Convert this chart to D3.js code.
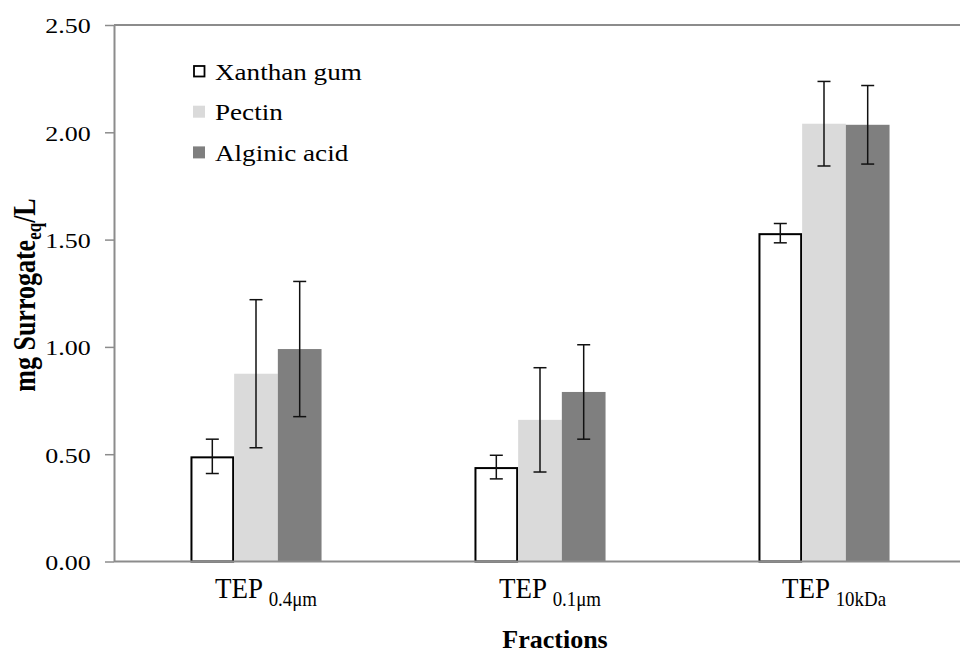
<!DOCTYPE html>
<html><head><meta charset="utf-8">
<script src="https://cdn.jsdelivr.net/npm/d3@7"></script>
<style>body{margin:0;background:#fff}svg{display:block}text{font-family:"Liberation Serif","Times New Roman",serif;fill:#000}</style>
</head><body><svg id="c" width="960" height="657"></svg>
<script>
const categories = ["TEP|0.4μm", "TEP|0.1μm", "TEP|10kDa"];
const seriesNames = ["Xanthan gum", "Pectin", "Alginic acid"];
const xanthanMeans = [0.49, 0.44, 1.53];
const pectinMeans = [0.875, 0.66, 2.04];
const alginicMeans = [0.99, 0.79, 2.035];
const xanthanErr = [0.08, 0.055, 0.045];
const pectinErr = [0.345, 0.243, 0.197];
const alginicErr = [0.315, 0.22, 0.183];
const yTicks = [0, 0.5, 1.0, 1.5, 2.0, 2.5];

const FONT = "'Liberation Serif', 'Times New Roman', serif";
const fills = ["#ffffff", "#dadada", "#7f7f7f"];
const series = [
  {name: seriesNames[0], means: xanthanMeans, errs: xanthanErr},
  {name: seriesNames[1], means: pectinMeans, errs: pectinErr},
  {name: seriesNames[2], means: alginicMeans, errs: alginicErr}
];

const svg = d3.select("#c");
const L = 114, R = 966, T = 25, B = 561.5;
const y = d3.scaleLinear().domain([0, 2.5]).range([B, T]);
const x0 = d3.scaleBand().domain(categories).range([L, R]).padding(0);
const x1 = d3.scaleBand().domain(seriesNames).range([0, x0.bandwidth()]).paddingInner(0).paddingOuter(1.75);

// top frame line
svg.append("line").attr("x1", L).attr("x2", 960).attr("y1", y(2.5)).attr("y2", y(2.5))
  .attr("stroke", "#8c8c8c").attr("stroke-width", 2);

// bars
const g = svg.append("g");
series.forEach((s, si) => {
  categories.forEach((c, ci) => {
    const bx = x0(c) + x1(s.name), bw = x1.bandwidth();
    const v = s.means[ci];
    if (si === 0) {
      g.append("rect").attr("x", bx + 1).attr("y", y(v) + 1).attr("width", bw - 2).attr("height", y(0) - y(v) - 1)
        .attr("fill", "#fff").attr("stroke", "#000").attr("stroke-width", 2);
    } else {
      g.append("rect").attr("x", bx).attr("y", y(v)).attr("width", bw).attr("height", y(0) - y(v))
        .attr("fill", fills[si]);
    }
  });
});

// y axis
const ya = svg.append("g").attr("transform", `translate(${L},0)`)
  .call(d3.axisLeft(y).tickValues(yTicks).tickFormat(d3.format(".2f")).tickSize(9).tickSizeOuter(0));
ya.attr("font-family", null);
ya.select(".domain").attr("stroke", "#8c8c8c").attr("stroke-width", 2);
ya.selectAll(".tick line").attr("stroke", "#8c8c8c").attr("stroke-width", 1.5);
ya.selectAll(".tick text").attr("font-size", 22).style("font-family", FONT)
  .attr("x", -19.7).attr("dy", "0.36em").attr("transform", "scale(1.18,1)");

// x axis line
const xa = svg.append("g").attr("transform", `translate(0,${B})`)
  .call(d3.axisBottom(x0).tickSize(0).tickFormat(""));
xa.select(".domain").attr("stroke", "#8c8c8c").attr("stroke-width", 2).attr("d", `M${L},0H960`);

// error bars
const eg = svg.append("g").attr("stroke", "#111").attr("stroke-width", 1.5);
series.forEach((s) => {
  categories.forEach((c, ci) => {
    const cx = x0(c) + x1(s.name) + x1.bandwidth() / 2;
    const lo = y(s.means[ci] - s.errs[ci]), hi = y(s.means[ci] + s.errs[ci]);
    eg.append("line").attr("x1", cx).attr("x2", cx).attr("y1", lo).attr("y2", hi);
    eg.append("line").attr("x1", cx - 6.5).attr("x2", cx + 6.5).attr("y1", lo).attr("y2", lo);
    eg.append("line").attr("x1", cx - 6.5).attr("x2", cx + 6.5).attr("y1", hi).attr("y2", hi);
  });
});

// x category labels
categories.forEach((c) => {
  const [main, sub] = c.split("|");
  const cx = x0(c) + x0.bandwidth() / 2 + 10;
  const t = svg.append("text").attr("transform", `translate(${cx},598) scale(0.9,1)`)
    .attr("text-anchor", "middle").attr("font-size", 30).style("font-family", FONT);
  t.append("tspan").text(main + " ");
  t.append("tspan").attr("font-size", 21).attr("dy", 8).text(sub);
});

// x title
svg.append("text").attr("x", 555).attr("y", 648).attr("text-anchor", "middle").style("font-family", FONT)
  .attr("font-size", 26).attr("font-weight", "bold").text("Fractions");

// y title
const yt = svg.append("text").attr("transform", "translate(35,295) scale(1.18,1) rotate(-90)")
  .attr("text-anchor", "middle").attr("font-size", 26).attr("font-weight", "bold").style("font-family", FONT);
yt.append("tspan").text("mg Surrogate");
yt.append("tspan").attr("font-size", 17).attr("dy", 5).text("eq");
yt.append("tspan").attr("dy", -5).text("/L");

// legend
const lg = svg.append("g");
series.forEach((s, i) => {
  const ry = 65 + i * 40.7;
  lg.append("rect").attr("x", i === 0 ? 194 : 193).attr("y", i === 0 ? ry + 1 : ry)
    .attr("width", i === 0 ? 10.5 : 12).attr("height", i === 0 ? 10.5 : 12)
    .attr("fill", fills[i]).attr("stroke", i === 0 ? "#000" : "none").attr("stroke-width", 1.8);
  lg.append("text").attr("transform", `translate(215,${ry + 14.5}) scale(1.13,1)`).style("font-family", FONT)
    .attr("font-size", 24).text(s.name);
});
</script></body></html>
